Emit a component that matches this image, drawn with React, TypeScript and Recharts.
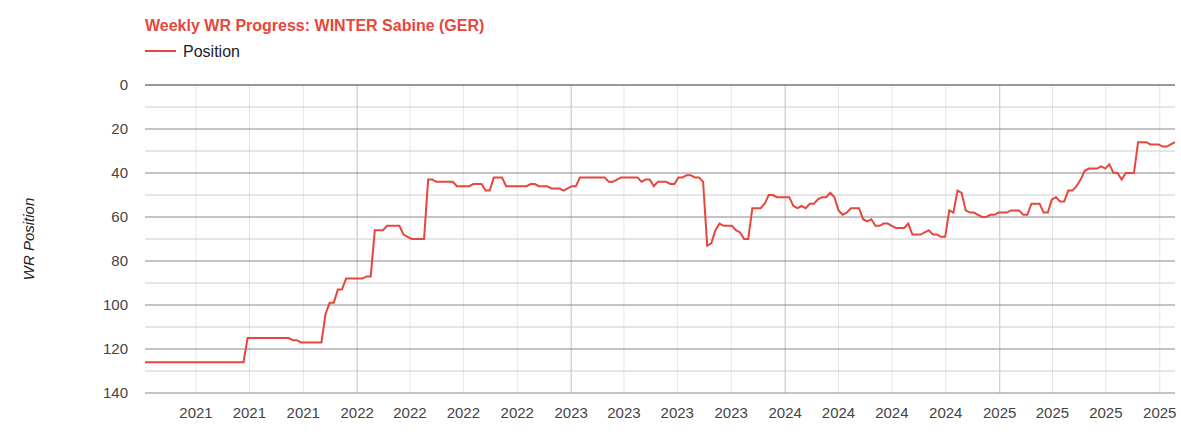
import { LineChart, Line, XAxis, YAxis, CartesianGrid } from "recharts";

const FONT = '"Liberation Sans", Arial, sans-serif';
const RED = "#e8453c";

// weekly WR position, one value per Monday starting 2021-01-04
const START = Date.UTC(2021, 0, 4);
const positions = [
  126, 126, 126, 126, 126, 126, 126, 126, 126, 126,
  126, 126, 126, 126, 126, 126, 126, 126, 126, 126,
  126, 126, 126, 126, 126, 115, 115, 115, 115, 115,
  115, 115, 115, 115, 115, 115, 116, 116, 117, 117,
  117, 117, 117, 117, 104, 99, 99, 93, 93, 88,
  88, 88, 88, 88, 87, 87, 66, 66, 66, 64,
  64, 64, 64, 68, 69, 70, 70, 70, 70, 43,
  43, 44, 44, 44, 44, 44, 46, 46, 46, 46,
  45, 45, 45, 48, 48, 42, 42, 42, 46, 46,
  46, 46, 46, 46, 45, 45, 46, 46, 46, 47,
  47, 47, 48, 47, 46, 46, 42, 42, 42, 42,
  42, 42, 42, 44, 44, 43, 42, 42, 42, 42,
  42, 44, 43, 43, 46, 44, 44, 44, 45, 45,
  42, 42, 41, 41, 42, 42, 44, 73, 72, 66,
  63, 64, 64, 64, 66, 67, 70, 70, 56, 56,
  56, 54, 50, 50, 51, 51, 51, 51, 55, 56,
  55, 56, 54, 54, 52, 51, 51, 49, 51, 57,
  59, 58, 56, 56, 56, 61, 62, 61, 64, 64,
  63, 63, 64, 65, 65, 65, 63, 68, 68, 68,
  67, 66, 68, 68, 69, 69, 57, 58, 48, 49,
  57, 58, 58, 59, 60, 60, 59, 59, 58, 58,
  58, 57, 57, 57, 59, 59, 54, 54, 54, 58,
  58, 52, 51, 53, 53, 48, 48, 46, 43, 39,
  38, 38, 38, 37, 38, 36, 40, 40, 43, 40,
  40, 40, 26, 26, 26, 27, 27, 27, 28, 28,
  27, 26,
];

const quarterTicks = [
  "2021-04-01", "2021-07-01", "2021-10-01",
  "2022-01-01", "2022-04-01", "2022-07-01", "2022-10-01",
  "2023-01-01", "2023-04-01", "2023-07-01", "2023-10-01",
  "2024-01-01", "2024-04-01", "2024-07-01", "2024-10-01",
  "2025-01-01", "2025-04-01", "2025-07-01", "2025-10-01",
];
const yearLines = ["2022-01-01", "2023-01-01", "2024-01-01", "2025-01-01"];
const yTicks = [0, 20, 40, 60, 80, 100, 120, 140];
const yMinor = [10, 30, 50, 70, 90, 110, 130];
const yMajor = [20, 40, 60, 80, 100, 120, 140];

const WEEK = 7 * 24 * 3600 * 1000;
const data = positions.map((p, i) => ({ t: START + i * WEEK, position: p }));
const toTs = (s: string) => Date.parse(s + "T00:00:00Z");
const xTicks = quarterTicks.map(toTs);
const xYears = yearLines.map(toTs);

export default function App() {
  return (
    <div style={{ position: "absolute", left: 0, top: 0, width: 1181, height: 443, background: "#fff", fontFamily: FONT }}>
      <div
        style={{
          position: "absolute", left: 145, top: 17.5, fontSize: 16, lineHeight: "16px",
          fontWeight: "bold", color: RED, whiteSpace: "nowrap",
        }}
      >
        Weekly WR Progress: WINTER Sabine (GER)
      </div>
      <div style={{ position: "absolute", left: 145, top: 43.5, display: "flex", alignItems: "center" }}>
        <div style={{ width: 31, height: 2, background: RED, marginRight: 7, marginTop: -2 }} />
        <span style={{ fontSize: 16, lineHeight: "16px", color: "#222" }}>Position</span>
      </div>
      <LineChart
        width={1181}
        height={443}
        data={data}
        margin={{ top: 85, right: 6, bottom: 20, left: 0 }}
        style={{ position: "absolute", left: 0, top: 0 }}
      >
        <CartesianGrid
          stroke="#e6e6e6"
          horizontalValues={yMinor}
          verticalValues={xTicks}
          horizontal={false}
        />
        <CartesianGrid stroke="#cccccc" horizontalValues={yMinor} vertical={false} />
        <CartesianGrid stroke="#cccccc" verticalValues={xYears} horizontal={false} />
        <CartesianGrid stroke="#888888" horizontalValues={yMajor} vertical={false} />
        <CartesianGrid stroke="#333333" horizontalValues={[0]} vertical={false} />
        <XAxis
          dataKey="t"
          type="number"
          domain={[data[0].t, data[data.length - 1].t]}
          ticks={xTicks}
          tickFormatter={(v: number) => String(new Date(v).getUTCFullYear())}
          axisLine={false}
          tickLine={false}
          tickSize={0}
          tickMargin={14}
          height={30}
          interval={0}
          tick={{ fill: "#444", fontSize: 15, fontFamily: FONT }}
        />
        <YAxis
          reversed
          domain={[0, 140]}
          ticks={yTicks}
          width={145}
          axisLine={false}
          tickLine={false}
          tickSize={0}
          tickMargin={17}
          interval={0}
          tick={{ fill: "#444", fontSize: 15, fontFamily: FONT }}
          label={() => (
            <text
              x={28}
              y={239}
              transform="rotate(-90 28 239)"
              textAnchor="middle"
              dominantBaseline="central"
              fontSize={15}
              fontStyle="italic"
              fontFamily={FONT}
              fill="#222"
            >
              WR Position
            </text>
          )}
        />
        <Line
          type="linear"
          dataKey="position"
          stroke={RED}
          strokeWidth={2}
          dot={false}
          activeDot={false}
          isAnimationActive={false}
        />
      </LineChart>
    </div>
  );
}
